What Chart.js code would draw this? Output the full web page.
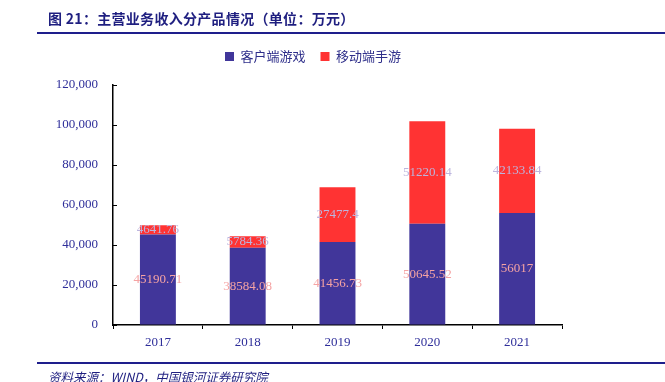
<!DOCTYPE html>
<html>
<head>
<meta charset="utf-8">
<script src="https://cdn.jsdelivr.net/npm/chart.js@4/dist/chart.umd.min.js"></script>
<style>
  html, body { margin: 0; padding: 0; background: #fff; }
  #wrap { position: relative; width: 665px; height: 382px; overflow: hidden; }
  #title { position: absolute; left: 48px; top: 8px; font: bold 14px "Noto Sans CJK SC", sans-serif; color: #1f1f80; white-space: nowrap; letter-spacing: 0.3px; }
  #rule1 { position: absolute; left: 37px; top: 32px; width: 628px; height: 2px; background: #1e1e8c; }
  #rule2 { position: absolute; left: 37px; top: 362px; width: 628px; height: 2px; background: #1e1e8c; }
  #source { position: absolute; left: 48px; top: 367px; font: italic 12.5px "Noto Sans CJK SC", sans-serif; color: #1f1f80; white-space: nowrap; }
  canvas { position: absolute; left: 0; top: 0; }
</style>
</head>
<body>
<div id="wrap">
  <canvas id="c" width="665" height="382"></canvas>
  <div id="title">图 21：主营业务收入分产品情况（单位：万元）</div>
  <div id="rule1"></div>
  <div id="rule2"></div>
  <div id="source">资料来源：WIND，中国银河证券研究院</div>
</div>
<script>
const years = ['2017', '2018', '2019', '2020', '2021'];
const pcGame = [45190.71, 38584.08, 41456.73, 50645.52, 56017];
const mobileGame = [4641.76, 5784.36, 27477.4, 51220.14, 42133.84];
const seriesNames = ['客户端游戏', '移动端手游'];

const blue = '#41369a';
const red = '#ff3333';
const axisText = '#2e2e9a';

// draws the value of each segment at its middle
const segLabels = {
  id: 'segLabels',
  afterDatasetsDraw(chart) {
    const ctx = chart.ctx;
    const colors = ['#f5a3a3', '#bcb5de'];
    ctx.save();
    ctx.font = '13px "Liberation Serif", serif';
    ctx.textAlign = 'center';
    ctx.textBaseline = 'middle';
    chart.data.datasets.forEach((ds, i) => {
      chart.getDatasetMeta(i).data.forEach((bar, j) => {
        const mid = (bar.y + bar.base) / 2;
        ctx.fillStyle = colors[i];
        ctx.fillText(String(ds.data[j]), bar.x, mid);
      });
    });
    ctx.restore();
  }
};

// inward ticks on the value axis
const yTicks = {
  id: 'yTicks',
  afterDraw(chart) {
    const y = chart.scales.y;
    const ctx = chart.ctx;
    ctx.save();
    ctx.strokeStyle = '#000';
    ctx.lineWidth = 1;
    y.ticks.forEach(t => {
      const py = Math.round(y.getPixelForValue(t.value)) + 0.5;
      ctx.beginPath();
      ctx.moveTo(y.right, py);
      ctx.lineTo(y.right + 4, py);
      ctx.stroke();
    });
    ctx.restore();
  }
};

// extra gap under the legend, and legend nudged right
const legendGap = {
  id: 'legendGap',
  beforeLayout(chart) {
    const l = chart.legend;
    if (!l || l._patched) return;
    l._patched = true;
    const fit = l.fit.bind(l);
    l.fit = function () { fit(); this.height += 12; };
    const draw = l.draw.bind(l);
    l.draw = function () {
      const ctx = this.ctx;
      ctx.save();
      ctx.translate(32, 0);
      draw();
      ctx.restore();
    };
  }
};

new Chart(document.getElementById('c'), {
  type: 'bar',
  data: {
    labels: years,
    datasets: [
      { label: seriesNames[0], data: pcGame, backgroundColor: blue },
      { label: seriesNames[1], data: mobileGame, backgroundColor: red }
    ]
  },
  options: {
    responsive: false,
    animation: false,
    layout: { padding: { top: 35, right: 103, bottom: 0, left: 0 } },
    datasets: { bar: { categoryPercentage: 1, barPercentage: 0.4 } },
    plugins: {
      legend: {
        labels: {
          font: { family: '"Noto Sans CJK SC", sans-serif', size: 13 },
          color: '#2e2e8a',
          boxWidth: 9,
          boxHeight: 9,
          padding: 15
        }
      },
      tooltip: { enabled: false }
    },
    scales: {
      x: {
        stacked: true,
        afterFit: s => { s.height = 57; },
        grid: { display: true, drawOnChartArea: false, drawTicks: true, tickLength: 4, color: '#000', offset: true },
        border: { display: true, color: '#000', width: 1.5 },
        ticks: { color: axisText, font: { family: '"Liberation Serif", serif', size: 13 }, padding: 6 }
      },
      y: {
        stacked: true,
        min: 0,
        max: 120000,
        afterFit: s => { s.width = 113; },
        grid: { drawOnChartArea: false, drawTicks: false },
        border: { display: true, color: '#000', width: 1.5 },
        ticks: {
          stepSize: 20000,
          color: axisText,
          padding: 15,
          font: { family: '"Liberation Serif", serif', size: 13 },
          callback: v => v.toLocaleString('en-US')
        }
      }
    }
  },
  plugins: [segLabels, yTicks, legendGap]
});
</script>
</body>
</html>
